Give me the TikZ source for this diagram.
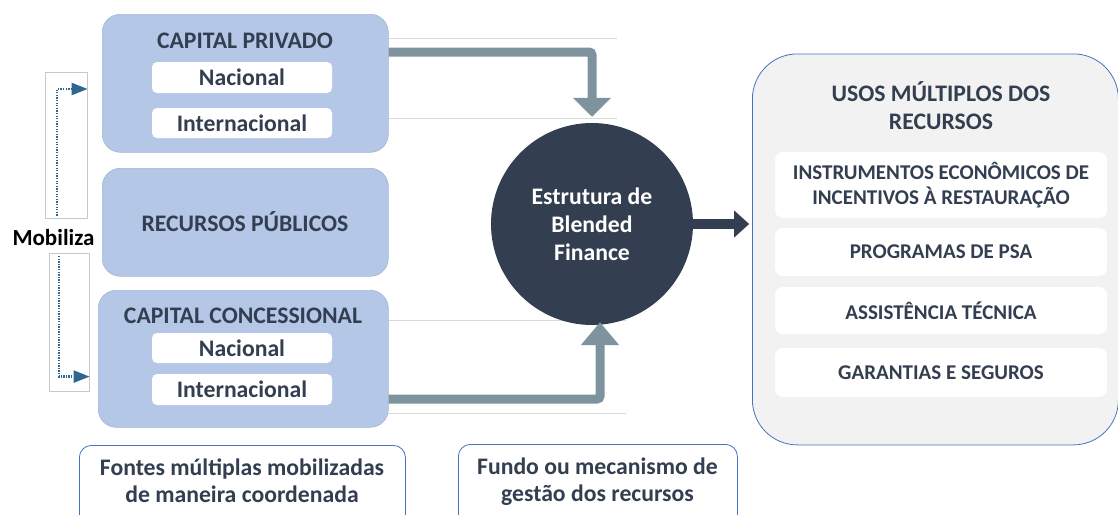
\documentclass[tikz,border=0pt]{standalone}
\usepackage{fontspec}
\setmainfont{Carlito}
\usetikzlibrary{arrows.meta}
\definecolor{boxblue}{HTML}{B4C7E7}
\definecolor{boxedge}{HTML}{A6B6D0}
\definecolor{navy}{HTML}{333F50}
\definecolor{arrgray}{HTML}{7D939E}
\definecolor{lgray}{HTML}{D9D9D9}
\definecolor{framegray}{HTML}{C8C8C8}
\definecolor{borderblue}{HTML}{4472C4}
\definecolor{dotblue}{HTML}{2F6690}
\definecolor{panel}{HTML}{F2F2F2}
\begin{document}
\begin{tikzpicture}[x=1pt,y=-1pt,
  srcbox/.style={draw=boxedge, line width=0.6pt, fill=boxblue, rounded corners=18pt,
    inner sep=0pt, anchor=north west},
  title/.style={text=navy, font=\fontsize{23.7}{26}\selectfont\bfseries, inner sep=0pt},
  subbox/.style={fill=white, rounded corners=5pt, text=navy, inner sep=0pt,
    font=\fontsize{23.7}{26}\selectfont\bfseries, minimum width=180pt},
  usebox/.style={fill=white, rounded corners=8pt, text=navy, inner sep=0pt,
    font=\fontsize{21}{25}\selectfont\bfseries, minimum width=332pt, align=center},
  notebox/.style={draw=borderblue, line width=0.8pt, fill=white, rounded corners=12pt,
    anchor=north west, inner sep=0pt},
  notetext/.style={text=navy, font=\fontsize{23.7}{27}\selectfont\bfseries, align=center, inner sep=0pt},
  guide/.style={draw=lgray, line width=0.8pt},
  bigarrow/.style={draw=arrgray, line width=9pt, rounded corners=3pt},
  dotarrow/.style={draw=dotblue, line width=2.4pt, dash pattern=on 1.3pt off 1.3pt,
    -{Triangle[width=12pt,length=16pt]}},
  mobframe/.style={draw=framegray, line width=0.6pt, anchor=north west, inner sep=0pt}
]
\useasboundingbox (0,0) rectangle (1118,514);

% guide lines behind arrows
\draw[guide] (388,38) coordinate (g1a) -- (617,38) coordinate (g1b);
\draw[guide] (388,118) coordinate (g2a) -- (617,118) coordinate (g2b);
\draw[guide] (388,320) coordinate (g3a) -- (626,320) coordinate (g3b);
\draw[guide] (388,413) coordinate (g4a) -- (626,413) coordinate (g4b);

% source boxes
\node[srcbox, minimum width=286pt, minimum height=138pt] (priv) at (102,14) {};
\node[title] (privt) at (245,41) {CAPITAL PRIVADO};
\node[subbox, minimum height=31pt] (privnac) at (242,77.5) {Nacional};
\node[subbox, minimum height=30pt] (privint) at (242,123) {Internacional};

\node[srcbox, minimum width=286pt, minimum height=108pt] (pub) at (102,168) {};
\node[title] (pubt) at (245,222) {RECURSOS PÚBLICOS};

\node[srcbox, minimum width=290pt, minimum height=137pt] (conc) at (98,290) {};
\node[title] (conct) at (243,316) {CAPITAL CONCESSIONAL};
\node[subbox, minimum height=30pt] (concnac) at (242,348) {Nacional};
\node[subbox, minimum height=31pt] (concint) at (242,389.5) {Internacional};

% mobiliza
\node[text=black, font=\fontsize{23}{26}\selectfont\bfseries, inner sep=0pt] (mob) at (53.5,238) {Mobiliza};
\node[mobframe, minimum width=42pt, minimum height=146pt] (mobup) at (45,72) {};
\node[mobframe, minimum width=40pt, minimum height=138pt] (mobdn) at (49,253) {};
\draw[dotarrow] ([xshift=12pt,yshift=3pt]mobup.south west) |- ([yshift=-17pt]mobup.north east);
\draw[dotarrow] ([xshift=10pt,yshift=-3pt]mobdn.north west) |- ([yshift=15pt]mobdn.south east);

% central circle
\node[circle, fill=navy, minimum size=202pt, inner sep=0pt, text=white, align=center,
  font=\fontsize{23.7}{28}\selectfont\bfseries] (circ) at (592,224)
  {Estrutura de\\Blended\\Finance};

% gray arrows
\draw[bigarrow, -{Triangle[width=37pt,length=19pt]}] (priv.east |- 0,52) -| ([yshift=6pt]circ.north);
\draw[bigarrow, -{Triangle[width=37pt,length=23pt]}] (conc.east |- 0,399) -| ([xshift=8pt,yshift=3pt]circ.south);

% navy arrow
\draw[draw=navy, line width=10pt, -{Triangle[width=26pt,length=15pt]}] (circ.east) -- ++(56,0) coordinate (navytip);

% right panel
\node[draw=borderblue, line width=0.8pt, fill=panel, rounded corners=45pt, anchor=north west,
  minimum width=366pt, minimum height=391pt, inner sep=0pt] (uses) at (752,53.5) {};
\node[text=navy, font=\fontsize{23.7}{28}\selectfont\bfseries, align=center, inner sep=0pt] (usest) at (941,106)
  {USOS MÚLTIPLOS DOS\\RECURSOS};
\node[usebox, minimum height=66pt] (u1) at (941,185) {INSTRUMENTOS ECONÔMICOS DE\\INCENTIVOS À RESTAURAÇÃO};
\node[usebox, minimum height=48pt] (u2) at (941,252) {PROGRAMAS DE PSA};
\node[usebox, minimum height=47pt] (u3) at (941,310.5) {ASSISTÊNCIA TÉCNICA};
\node[usebox, minimum height=49pt] (u4) at (941,372.5) {GARANTIAS E SEGUROS};

% bottom note boxes
\node[notebox, minimum width=326pt, minimum height=90pt] (n1) at (79,445) {};
\node[notetext] (n1t) at (242,481) {Fontes múltiplas mobilizadas\\de maneira coordenada};
\node[notebox, minimum width=279pt, minimum height=90pt] (n2) at (458,444) {};
\node[notetext] (n2t) at (597.5,482) {Fundo ou mecanismo de\\gestão dos recursos};
\end{tikzpicture}
\end{document}
